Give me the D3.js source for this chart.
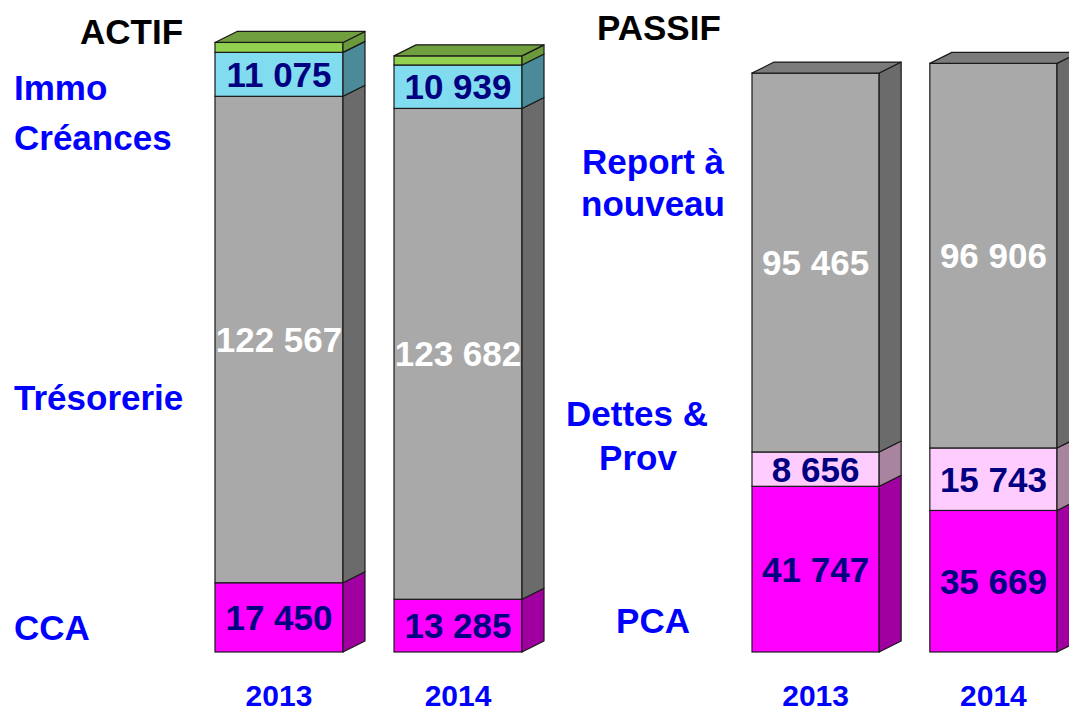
<!DOCTYPE html>
<html>
<head>
<meta charset="utf-8">
<script src="https://cdn.jsdelivr.net/npm/d3@7"></script>
<style>
    html, body { margin: 0; padding: 0; background: #ffffff; }
    #chart { width: 1069px; height: 713px; overflow: hidden; }
    text { font-family: "Liberation Sans", Arial, sans-serif; font-weight: bold; }
</style>
</head>
<body>
<div id="chart"></div>
<script>
// years on the x axis of both panels
const years = ["2013", "2014"];

// actif series (bottom to top)
const ccaValues = [17450, 13285];
const tresorerieValues = [122567, 123682];
const creancesValues = [11075, 10939];
const immoValues = [2500, 2300];

// passif series (bottom to top)
const pcaValues = [41747, 35669];
const dettesValues = [8656, 15743];
const reportValues = [95465, 96906];

function drawChart() {
    "use strict";

    let width = 1069;
    let height = 713;

    // 3d depth of the bars
    let depthX = 22;
    let depthY = 11;

    let palette = {
        magenta: { front: "#ff00ff", side: "#a000a0", top: "#c400c4", label: "#000080" },
        gray: { front: "#a9a9a9", side: "#6b6b6b", top: "#7b7b7b", label: "#ffffff" },
        cyan: { front: "#80dcee", side: "#4b8a98", top: "#5fa9b8", label: "#000080" },
        green: { front: "#92d050", side: "#6a9a3c", top: "#6f9f3f", label: "#000080" },
        pink: { front: "#ffccff", side: "#a8849f", top: "#c9a3c6", label: "#000080" }
    };

    let actifSeries = [
        { name: "CCA", values: ccaValues, color: palette.magenta, showValue: true },
        { name: "Trésorerie", values: tresorerieValues, color: palette.gray, showValue: true },
        { name: "Créances", values: creancesValues, color: palette.cyan, showValue: true },
        { name: "Immo", values: immoValues, color: palette.green, showValue: false }
    ];

    let passifSeries = [
        { name: "PCA", values: pcaValues, color: palette.magenta, showValue: true },
        { name: "Dettes & Prov", values: dettesValues, color: palette.pink, showValue: true },
        { name: "Report à nouveau", values: reportValues, color: palette.gray, showValue: true }
    ];

    let svg = d3.select("#chart").append("svg")
        .attr("width", width)
        .attr("height", height);

    // shared value scale for both panels
    let yScale = d3.scaleLinear()
        .domain([0, 160000])
        .range([652, 17]);

    let actifX = d3.scaleBand()
        .domain(years)
        .range([215, 522])
        .paddingInner(0.285)
        .paddingOuter(0);

    let passifX = d3.scaleBand()
        .domain(years)
        .range([752, 1057])
        .paddingInner(0.285)
        .paddingOuter(0);

    // builds stacked segments from a list of series
    function buildSegments(series) {
        let stack = d3.stack()
            .keys(series.map(s => s.name))
            .value((d, key) => d[key]);

        let rows = years.map((year, i) => {
            let row = { year: year };
            series.forEach(s => { row[s.name] = s.values[i]; });
            return row;
        });

        let segments = [];
        stack(rows).forEach((layer, k) => {
            layer.forEach(p => {
                segments.push({
                    year: p.data.year,
                    y0: p[0],
                    y1: p[1],
                    value: p[1] - p[0],
                    series: series[k],
                    isTop: k === series.length - 1
                });
            });
        });
        return segments;
    }

    function drawPanel(series, xScale) {
        let segments = buildSegments(series);
        let g = svg.append("g");

        let bar = g.selectAll(".segment")
            .data(segments)
            .enter()
            .append("g")
            .attr("class", "segment");

        // front face
        bar.append("rect")
            .attr("x", d => xScale(d.year))
            .attr("y", d => yScale(d.y1))
            .attr("width", xScale.bandwidth())
            .attr("height", d => yScale(d.y0) - yScale(d.y1))
            .style("fill", d => d.series.color.front)
            .style("stroke", "#1a1a1a")
            .style("stroke-width", 1.2);

        // right side face
        bar.append("path")
            .attr("d", d => {
                let x1 = xScale(d.year) + xScale.bandwidth();
                let top = yScale(d.y1);
                let bottom = yScale(d.y0);
                return `M${x1},${top}L${x1 + depthX},${top - depthY}L${x1 + depthX},${bottom - depthY}L${x1},${bottom}Z`;
            })
            .style("fill", d => d.series.color.side)
            .style("stroke", "#1a1a1a")
            .style("stroke-width", 1.2)
            .style("stroke-linejoin", "round");

        // top face only on the highest segment
        bar.filter(d => d.isTop)
            .append("path")
            .attr("d", d => {
                let x0 = xScale(d.year);
                let x1 = x0 + xScale.bandwidth();
                let top = yScale(d.y1);
                return `M${x0},${top}L${x0 + depthX},${top - depthY}L${x1 + depthX},${top - depthY}L${x1},${top}Z`;
            })
            .style("fill", d => d.series.color.top)
            .style("stroke", "#1a1a1a")
            .style("stroke-width", 1.2)
            .style("stroke-linejoin", "round");

        // value labels centered in the front face
        bar.filter(d => d.series.showValue)
            .append("text")
            .attr("x", d => xScale(d.year) + xScale.bandwidth() / 2)
            .attr("y", d => (yScale(d.y0) + yScale(d.y1)) / 2 + 12.5)
            .attr("text-anchor", "middle")
            .style("font-size", "35px")
            .style("fill", d => d.series.color.label)
            .text(d => d3.format(",")(d.value).replace(",", " "));

        // year labels under bars
        g.selectAll(".year")
            .data(years)
            .enter()
            .append("text")
            .attr("class", "year")
            .attr("x", d => xScale(d) + xScale.bandwidth() / 2)
            .attr("y", 706)
            .attr("text-anchor", "middle")
            .style("font-size", "30px")
            .style("fill", "#0000ff")
            .text(d => d);
    }

    drawPanel(actifSeries, actifX);
    drawPanel(passifSeries, passifX);

    // panel titles
    svg.append("text")
        .attr("x", 80)
        .attr("y", 44)
        .style("font-size", "35px")
        .style("fill", "#000000")
        .text("ACTIF");

    svg.append("text")
        .attr("x", 597)
        .attr("y", 40)
        .style("font-size", "35px")
        .style("fill", "#000000")
        .text("PASSIF");

    // category labels: [text, x, baseline, anchor]
    let categoryLabels = [
        ["Immo", 14, 100, "start"],
        ["Créances", 14, 150, "start"],
        ["Trésorerie", 14, 410, "start"],
        ["CCA", 14, 640, "start"],
        ["Report à", 653, 174, "middle"],
        ["nouveau", 653, 216, "middle"],
        ["Dettes &", 637, 426, "middle"],
        ["Prov", 638, 470, "middle"],
        ["PCA", 653, 633, "middle"]
    ];

    svg.selectAll(".category")
        .data(categoryLabels)
        .enter()
        .append("text")
        .attr("class", "category")
        .attr("x", d => d[1])
        .attr("y", d => d[2])
        .attr("text-anchor", d => d[3])
        .style("font-size", "35px")
        .style("fill", "#0000ff")
        .text(d => d[0]);
}

drawChart();
</script>
</body>
</html>
